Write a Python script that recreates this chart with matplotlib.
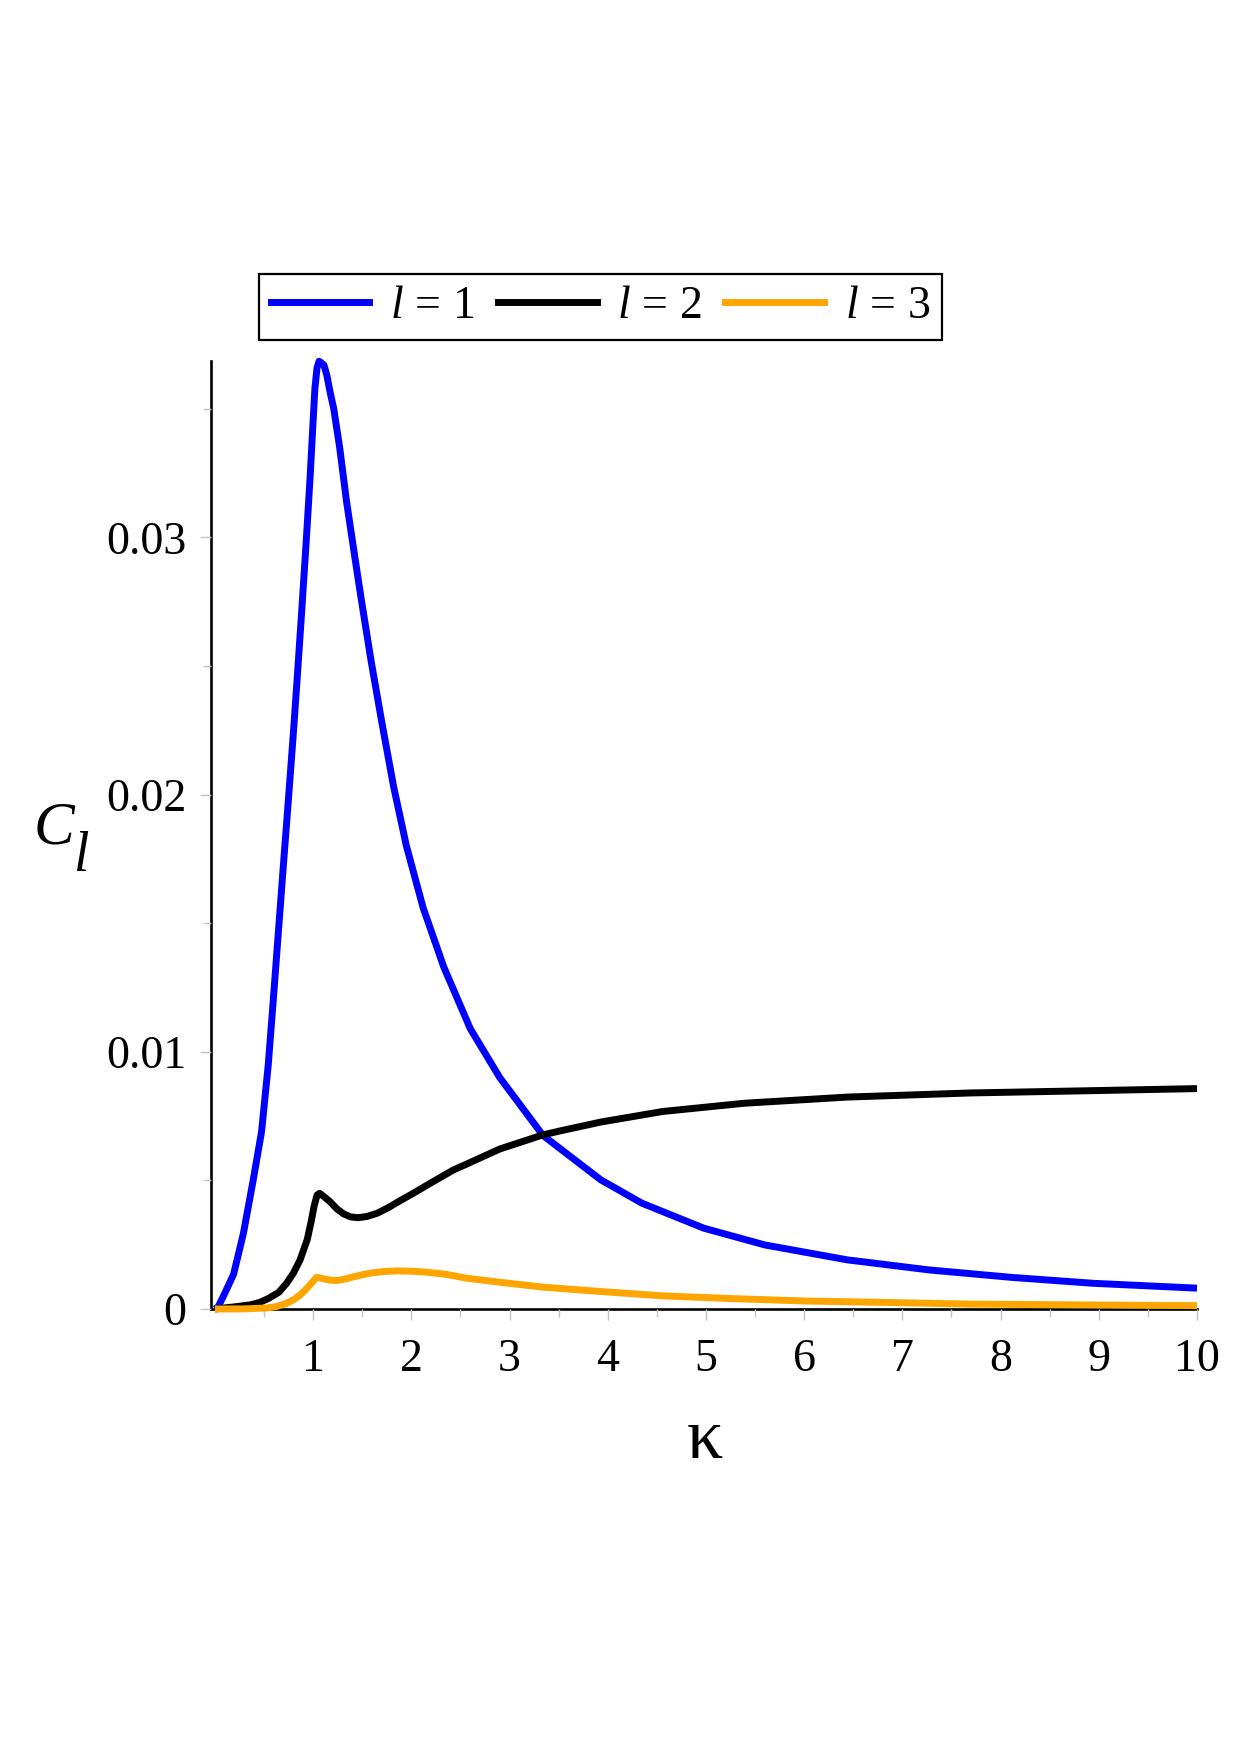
import matplotlib
matplotlib.use("Agg")
import matplotlib.pyplot as plt
from matplotlib.lines import Line2D

# ---------------- data ----------------
kappa_l1 = [0.0, 0.034, 0.10, 0.19, 0.29, 0.39, 0.475, 0.543, 0.594, 0.645, 0.696,
            0.746, 0.797, 0.839, 0.883, 0.927, 0.967, 1.001, 1.018, 1.04, 1.06,
            1.08, 1.11, 1.14, 1.17, 1.21, 1.27, 1.34, 1.43, 1.49, 1.59, 1.70,
            1.82, 1.95, 2.12, 2.33, 2.60, 2.90, 3.34, 3.51, 3.93, 4.35, 4.98,
            5.60, 6.44, 7.27, 8.11, 8.94, 10.0]
C_l1 = [0.0, 0.00009, 0.00061, 0.00135, 0.00294, 0.00502, 0.0069, 0.0095, 0.0120,
        0.0146, 0.0172, 0.0197, 0.0223, 0.0246, 0.0271, 0.0297, 0.0322, 0.0346,
        0.0358, 0.0366, 0.03685, 0.0368, 0.0367, 0.0363, 0.0357, 0.0350, 0.0335,
        0.0314, 0.0291, 0.0276, 0.0252, 0.0228, 0.0203, 0.0180, 0.0156, 0.0133,
        0.0109, 0.0090, 0.00675, 0.00625, 0.00502, 0.00411, 0.00314, 0.00249,
        0.00191, 0.00152, 0.00123, 0.00100, 0.00081]

kappa_l2 = [0.0, 0.19, 0.36, 0.46, 0.55, 0.65, 0.73, 0.80, 0.866, 0.94, 0.98,
            1.01, 1.04, 1.065, 1.10, 1.17, 1.24, 1.31, 1.38, 1.46, 1.55, 1.65,
            1.77, 1.88, 2.02, 2.22, 2.43, 2.56, 2.90, 3.34, 3.51, 3.93, 4.56,
            5.39, 6.44, 7.69, 8.94, 10.0]
C_l2 = [0.0, 0.00008, 0.00016, 0.00026, 0.00042, 0.00065, 0.0010, 0.0014, 0.0019,
        0.0027, 0.0034, 0.0040, 0.00443, 0.0045, 0.0044, 0.00418, 0.0039, 0.0037,
        0.00358, 0.00355, 0.0036, 0.00372, 0.00395, 0.0042, 0.0045, 0.00495,
        0.00541, 0.00563, 0.00622, 0.00677, 0.00692, 0.00727, 0.00768, 0.0080,
        0.00824, 0.0084, 0.00849, 0.00857]

kappa_l3 = [0.0, 0.30, 0.53, 0.63, 0.73, 0.80, 0.866, 0.92, 0.967, 1.00, 1.035,
            1.07, 1.12, 1.18, 1.24, 1.32, 1.41, 1.51, 1.61, 1.73, 1.85, 2.0,
            2.16, 2.35, 2.56, 2.90, 3.34, 3.51, 3.93, 4.56, 5.30, 6.02, 6.90,
            7.69, 8.80, 10.0]
C_l3 = [0.0, 0.000005, 0.00004, 0.0001, 0.00022, 0.00036, 0.00054, 0.00074,
        0.00093, 0.00108, 0.00123, 0.00121, 0.00116, 0.00112, 0.00111, 0.00116,
        0.00125, 0.00134, 0.00141, 0.00146, 0.00148, 0.00147, 0.00143, 0.00135,
        0.0012, 0.00104, 0.00085, 0.0008, 0.00068, 0.00051, 0.0004, 0.00031,
        0.00025, 0.00019, 0.00016, 0.00013]

series_labels = [r"$l\,=\,1$", r"$l\,=\,2$", r"$l\,=\,3$"]
series_colors = ["#0000ff", "#000000", "#ffa500"]

x_major = [1, 2, 3, 4, 5, 6, 7, 8, 9, 10]
x_minor = [0.5, 1.5, 2.5, 3.5, 4.5, 5.5, 6.5, 7.5, 8.5, 9.5]
y_major = [0.0, 0.01, 0.02, 0.03]
y_major_labels = ["0", "0.01", "0.02", "0.03"]
y_minor = [0.005, 0.015, 0.025, 0.035]

# ---------------- style ----------------
plt.rcParams["font.family"] = ["Liberation Serif", "DejaVu Serif"]
plt.rcParams["mathtext.fontset"] = "custom"
plt.rcParams["mathtext.rm"] = "Liberation Serif"
plt.rcParams["mathtext.it"] = "Liberation Serif:italic"

W, H = 1240, 1755
fig = plt.figure(figsize=(W / 100, H / 100), dpi=100)
ax = fig.add_axes([211 / W, 1 - 1309 / H, 986 / W, 948 / H])

lw = 5.0
for k, c, col in zip([kappa_l1, kappa_l2, kappa_l3], [C_l1, C_l2, C_l3], series_colors):
    ax.plot(k, c, color=col, lw=lw, solid_joinstyle="round", solid_capstyle="butt",
            clip_on=False)

ax.set_xlim(-0.04, 10)
ax.set_ylim(0, 0.03686)

for s in ["top", "right"]:
    ax.spines[s].set_visible(False)
for s in ["left", "bottom"]:
    ax.spines[s].set_linewidth(1.9)
    ax.spines[s].set_color("black")
    ax.spines[s].set_zorder(1)

ax.set_xticks(x_major)
ax.set_xticklabels([str(v) for v in x_major])
ax.set_xticks(x_minor, minor=True)
ax.set_yticks(y_major)
ax.set_yticklabels(y_major_labels)
ax.set_yticks(y_minor, minor=True)

tick_col = "#c4c4c4"
ax.tick_params(axis="both", which="major", direction="out", length=8, width=1.0,
               color=tick_col, labelsize=33, labelcolor="black")
ax.tick_params(axis="both", which="minor", direction="out", length=6, width=1.0,
               color=tick_col)
ax.tick_params(axis="x", which="major", pad=13)
ax.tick_params(axis="y", which="major", pad=10)

# axis labels
fig.text(34 / W, 1 - 843 / H, "C", fontsize=44, style="italic",
         ha="left", va="baseline")
fig.text(73 / W, 1 - 871 / H, "l", fontsize=40, style="italic",
         ha="left", va="baseline")
fig.text(705 / W, 1 - 1458 / H, "κ", fontsize=52, ha="center", va="baseline")

# legend
handles = [Line2D([0], [0], color=c, lw=lw) for c in series_colors]
leg = fig.legend(handles, series_labels, loc="center",
                 bbox_to_anchor=(600.8 / W, 1 - 307 / H),
                 bbox_transform=fig.transFigure, ncol=3, fontsize=33,
                 frameon=True, fancybox=False, framealpha=1, edgecolor="black",
                 handlelength=2.15, handletextpad=0.45, columnspacing=0.5,
                 borderpad=0.25, borderaxespad=0)
leg.get_frame().set_linewidth(1.6)

fig.savefig("out.png", dpi=100)
